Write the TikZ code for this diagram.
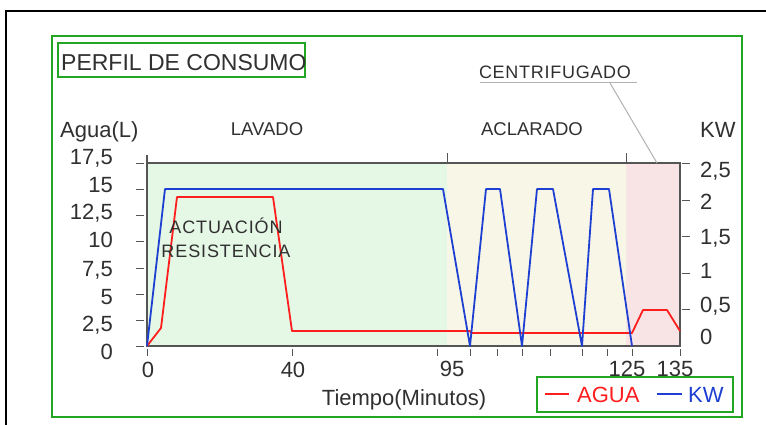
\documentclass[tikz,border=0pt]{standalone}
\usepackage{fontspec}
\setmainfont{Liberation Sans}
\definecolor{gboxc}{RGB}{34,165,34}
\definecolor{bgG}{RGB}{229,247,229}
\definecolor{bgY}{RGB}{248,246,230}
\definecolor{bgP}{RGB}{248,228,228}
\definecolor{redc}{RGB}{255,30,30}
\definecolor{bluec}{RGB}{30,64,210}
\definecolor{txt}{RGB}{48,48,48}
\definecolor{axc}{RGB}{85,85,85}
\tikzset{
  gbox/.style={draw=gboxc,line width=1.6pt},
  axisline/.style={draw=axc,line width=1.6pt},
  tickline/.style={draw=axc,line width=1pt},
  num/.style={font=\fontsize{22}{24}\selectfont,text=txt,inner sep=0pt,text height=15.75pt,text depth=0pt},
  lbl/.style={font=\fontsize{22}{24}\selectfont,text=txt,inner sep=0pt},
  phase/.style={font=\fontsize{18.5}{20}\selectfont,text=txt,inner sep=0pt,text height=13.25pt,text depth=0pt},
  note/.style={font=\fontsize{18}{22}\selectfont\addfontfeature{LetterSpace=6},text=txt,inner sep=0pt,align=center},
  agua/.style={draw=redc,line width=1.8pt,line join=round},
  kw/.style={draw=bluec,line width=1.8pt,line join=round},
}
\begin{document}
\begin{tikzpicture}[x=1pt,y=-1pt]
\useasboundingbox (0,0) rectangle (766,424);
\fill[white] (0,0) rectangle (766,424);
% outer black frame
\draw[line width=2.4pt] (6,425) -- (6,11) -- (767,11);
% green frames
\draw[gbox] (52,36) rectangle (742,417);
\draw[gbox] (58,43) rectangle (305,77);
\node[lbl,anchor=base west,font=\fontsize{23}{24}\selectfont] (title) at (61,70) {PERFIL DE CONSUMO};
% phase backgrounds
\fill[bgG] (147,163) rectangle (447,346);
\fill[bgY] (447,163) rectangle (626,346);
\fill[bgP] (626,163) rectangle (680,346);
% axes frame
\draw[axisline] (147,155) -- (147,346) -- (680,346) -- (680,163) -- (147,163);
\draw[tickline] (447,153) -- (447,163);
\draw[tickline] (626,153) -- (626,163);
% left ticks
\foreach \yy in {163,189,215,241,268,294,320,346}
  \draw[tickline] (136,\yy) -- (144,\yy);
% right ticks
\foreach \yy in {163,200,236,273,309}
  \draw[tickline] (682,\yy) -- (690,\yy);
% bottom ticks
\foreach \xx in {147,292,437,470,497,522,550,582,607,632,680}
  \draw[tickline] (\xx,349) -- (\xx,356);
% left labels
\node[num,anchor=east] (l175) at (113,157) {17,5};
\node[num,anchor=east] (l15) at (113,184.5) {15};
\node[num,anchor=east] (l125) at (113,212) {12,5};
\node[num,anchor=east] (l10) at (113,240) {10};
\node[num,anchor=east] (l75) at (113,269) {7,5};
\node[num,anchor=east] (l5) at (113,297) {5};
\node[num,anchor=east] (l25) at (113,324) {2,5};
\node[num,anchor=east] (l0) at (113,351.5) {0};
% right labels
\node[num,anchor=west] (r25) at (700,170) {2,5};
\node[num,anchor=west] (r2) at (700,202) {2};
\node[num,anchor=west] (r15) at (700,237) {1,5};
\node[num,anchor=west] (r1) at (700,271) {1};
\node[num,anchor=west] (r05) at (700,305) {0,5};
\node[num,anchor=west] (r0) at (700,337) {0};
% bottom labels
\node[num] (b0) at (148,370) {0};
\node[num] (b40) at (293,370) {40};
\node[num] (b95) at (452,369) {95};
\node[num] (b125) at (627,369) {125};
\node[num] (b135) at (675,369) {135};
% axis titles
\node[lbl,anchor=base west] (agua) at (60,137) {Agua(L)};
\node[lbl,anchor=base west] (kwt) at (700,137) {KW};
\node[lbl,anchor=base] (tiempo) at (404,405) {Tiempo(Minutos)};
% phase labels
\node[phase] (lavado) at (267,128.5) {LAVADO};
\node[phase] (aclarado) at (532,128.5) {ACLARADO};
\node[phase,font=\fontsize{18}{20}\selectfont\addfontfeature{LetterSpace=4}] (centri) at (555,71.5) {CENTRIFUGADO};
\coordinate (ulA) at (480,82);
\coordinate (ulB) at (637,82);
\coordinate (leadA) at (610,83);
\coordinate (leadB) at (657,163);
\draw[draw=black!30,line width=1pt] (ulA) -- (ulB);
\draw[draw=black!30,line width=1pt] (leadA) -- (leadB);
% curves
\draw[agua] (147,346) -- (161,328) -- (177,197) -- (273,197) -- (292,331) -- (470,331) -- (471,333) -- (632,333) -- (643,310) -- (667,310) -- (680,331);
\draw[kw] (147,346) -- (165,189) -- (443,189) -- (470,346) -- (486,189) -- (500,189) -- (522,346) -- (537,189) -- (553,189) -- (582,346) -- (593,189) -- (609,189) -- (632,346);
% note
\node[note,font=\fontsize{18}{23.5}\selectfont\addfontfeature{LetterSpace=5}] (act) at (226,238) {ACTUACIÓN\\RESISTENCIA};
% legend
\draw[gbox] (537,377) rectangle (733,412);
\coordinate (la) at (545,394);
\coordinate (lb) at (569,394);
\coordinate (lc) at (657,394);
\coordinate (ld) at (682,394);
\draw[agua] (la) -- (lb);
\draw[kw] (lc) -- (ld);
\node[num,anchor=west,text=redc] (legA) at (577,395) {AGUA};
\node[num,anchor=west,text=bluec] (legK) at (688,395) {KW};
\end{tikzpicture}
\end{document}
